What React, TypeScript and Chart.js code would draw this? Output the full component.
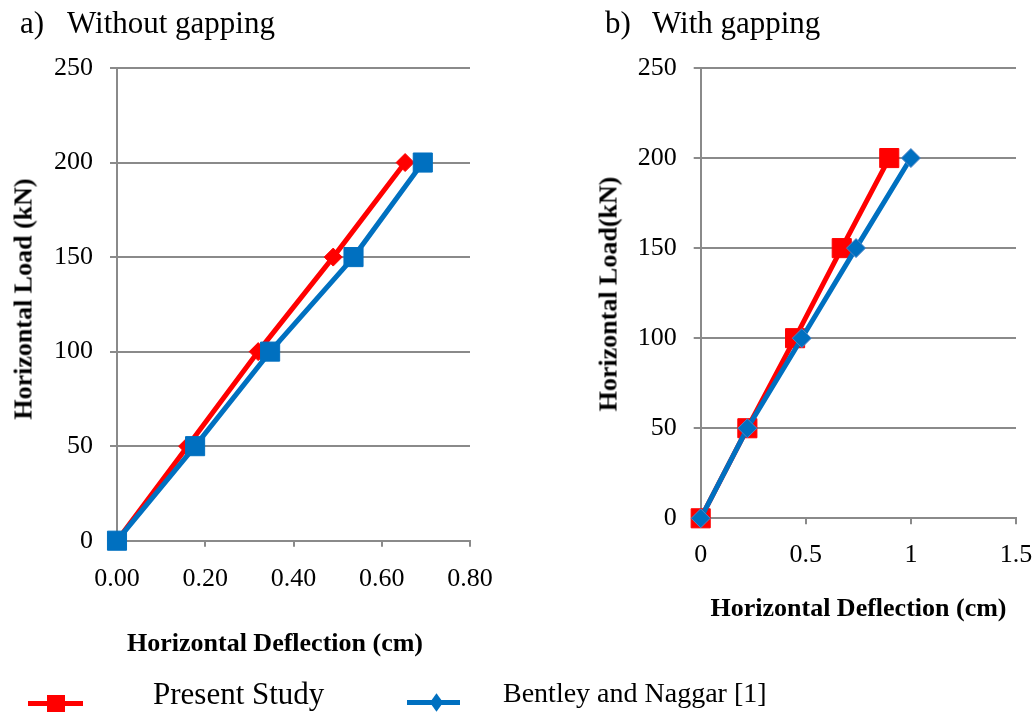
import React, { useEffect, useRef } from "react";
import { Chart, registerables } from "chart.js";

Chart.register(...registerables);

// Applied horizontal load levels (kN)
const loads = [0, 50, 100, 150, 200];
const loadMax = 250;
const loadStep = 50;

// Horizontal deflection (cm), panel a: without gapping
const presentNoGap = [0, 0.16, 0.32, 0.49, 0.653];
const bentleyNoGap = [0, 0.177, 0.347, 0.536, 0.693];

// Horizontal deflection (cm), panel b: with gapping
const presentGap = [0, 0.222, 0.449, 0.671, 0.897];
const bentleyGap = [0, 0.222, 0.481, 0.739, 1.0];

const seriesNames = ["Present Study", "Bentley and Naggar [1]"];
const panelTitles = [
  ["a)", "Without gapping"],
  ["b)", "With gapping"],
];
const xTitle = "Horizontal Deflection (cm)";
const yTitles = ["Horizontal Load (kN)", "Horizontal Load(kN)"];

const RED = "#FF0000";
const BLUE = "#0070C0";
const GRID = "#8a8a8a";
const SERIF = "'Liberation Serif', 'Times New Roman', serif";
const TICK_SIZE = 26;

type PanelProps = {
  left: number;
  width: number;
  height: number;
  areaTop: number;
  areaRight: number;
  yAxisWidth: number;
  xAxisHeight: number;
  xTickPad: number;
  xMax: number;
  xStep: number;
  xFormat: (v: number) => string;
  present: number[];
  bentley: number[];
  presentStyle: { style: string; radius: number };
  bentleyStyle: { style: string; radius: number; border: string };
};

function Panel(p: PanelProps) {
  const ref = useRef<HTMLCanvasElement | null>(null);

  useEffect(() => {
    if (!ref.current) return;
    const pairs = (xs: number[]) => xs.map((x, i) => ({ x, y: loads[i] }));
    const chart = new Chart(ref.current, {
      type: "line",
      data: {
        datasets: [
          {
            label: seriesNames[1],
            data: pairs(p.bentley),
            borderColor: BLUE,
            backgroundColor: BLUE,
            borderWidth: 5,
            pointStyle: p.bentleyStyle.style as any,
            pointRadius: p.bentleyStyle.radius,
            pointBackgroundColor: BLUE,
            pointBorderColor: p.bentleyStyle.border,
            pointBorderWidth: 1,
            tension: 0,
            clip: false as any,
          },
          {
            label: seriesNames[0],
            data: pairs(p.present),
            borderColor: RED,
            backgroundColor: RED,
            borderWidth: 5,
            pointStyle: p.presentStyle.style as any,
            pointRadius: p.presentStyle.radius,
            pointBackgroundColor: RED,
            pointBorderColor: RED,
            pointBorderWidth: 1,
            tension: 0,
            clip: false as any,
          },
        ],
      },
      options: {
        animation: false,
        responsive: false,
        events: [],
        layout: {
          padding: { top: p.areaTop, right: p.width - p.areaRight, left: 0, bottom: 0 },
        },
        plugins: {
          legend: { display: false },
          tooltip: { enabled: false },
        },
        scales: {
          x: {
            type: "linear",
            min: 0,
            max: p.xMax,
            ticks: {
              stepSize: p.xStep,
              color: "#000",
              font: { family: SERIF, size: TICK_SIZE },
              padding: p.xTickPad,
              maxRotation: 0,
              callback: (v: any) => p.xFormat(Number(v)),
            },
            grid: {
              drawOnChartArea: false,
              drawTicks: true,
              tickLength: 6,
              color: GRID,
              lineWidth: 2,
            },
            border: { display: true, color: GRID, width: 2 },
            afterFit: (s: any) => {
              s.height = p.xAxisHeight;
            },
          },
          y: {
            type: "linear",
            min: 0,
            max: loadMax,
            ticks: {
              stepSize: loadStep,
              color: "#000",
              font: { family: SERIF, size: TICK_SIZE },
              padding: 17,
            },
            grid: {
              color: GRID,
              lineWidth: 2,
              drawTicks: true,
              tickLength: 7,
            },
            border: { display: true, color: GRID, width: 2 },
            afterFit: (s: any) => {
              s.width = p.yAxisWidth;
            },
          },
        },
      },
    });
    return () => chart.destroy();
  }, []);

  return (
    <canvas
      ref={ref}
      width={p.width}
      height={p.height}
      style={{ position: "absolute", left: p.left, top: 0, width: p.width, height: p.height }}
    />
  );
}

function PanelTitle({ left, textLeft, tag, text }: { left: number; textLeft: number; tag: string; text: string }) {
  const base: React.CSSProperties = {
    position: "absolute",
    top: 7,
    fontFamily: SERIF,
    fontSize: 31,
    lineHeight: "31px",
    color: "#000",
    whiteSpace: "nowrap",
  };
  return (
    <>
      <div style={{ ...base, left }}>{tag}</div>
      <div style={{ ...base, left: textLeft }}>{text}</div>
    </>
  );
}

// Axis title centred on (cx, cy); vertical titles read bottom-to-top
function AxisTitle({ cx, cy, text, vertical }: { cx: number; cy: number; text: string; vertical?: boolean }) {
  return (
    <div
      style={{
        position: "absolute",
        left: cx,
        top: cy,
        transform: `translate(-50%, -50%)${vertical ? " rotate(-90deg)" : ""}`,
        fontFamily: SERIF,
        fontWeight: "bold",
        fontSize: 26,
        lineHeight: "29px",
        color: "#000",
        whiteSpace: "nowrap",
      }}
    >
      {text}
    </div>
  );
}

export default function App() {
  return (
    <div
      style={{
        position: "absolute",
        left: 0,
        top: 0,
        width: 1035,
        height: 713,
        overflow: "hidden",
        background: "#fff",
      }}
    >
      <Panel
        left={0}
        width={516}
        height={680}
        areaTop={68}
        areaRight={470}
        yAxisWidth={117}
        xAxisHeight={139.3}
        xTickPad={17}
        xMax={0.8}
        xStep={0.2}
        xFormat={(v) => v.toFixed(2)}
        present={presentNoGap}
        bentley={bentleyNoGap}
        presentStyle={{ style: "rectRot", radius: 9 }}
        bentleyStyle={{ style: "rect", radius: 13.5, border: BLUE }}
      />
      <Panel
        left={580}
        width={476}
        height={680}
        areaTop={68}
        areaRight={436}
        yAxisWidth={120.7}
        xAxisHeight={161.7}
        xTickPad={15}
        xMax={1.5}
        xStep={0.5}
        xFormat={(v) => String(Math.round(v * 10) / 10)}
        present={presentGap}
        bentley={bentleyGap}
        presentStyle={{ style: "rect", radius: 13.5 }}
        bentleyStyle={{ style: "rectRot", radius: 9.5, border: "#4f86c6" }}
      />

      <PanelTitle left={20} textLeft={67} tag={panelTitles[0][0]} text={panelTitles[0][1]} />
      <PanelTitle left={605} textLeft={652} tag={panelTitles[1][0]} text={panelTitles[1][1]} />

      <AxisTitle cx={275} cy={642} text={xTitle} />
      <AxisTitle cx={858.5} cy={607} text={xTitle} />
      <AxisTitle cx={23} cy={299} text={yTitles[0]} vertical />
      <AxisTitle cx={608} cy={294} text={yTitles[1]} vertical />

      {/* legend */}
      <div style={{ position: "absolute", left: 28, top: 700.5, width: 55, height: 5, background: RED }} />
      <div style={{ position: "absolute", left: 47, top: 695, width: 18, height: 17, background: RED }} />
      <div
        style={{
          position: "absolute",
          left: 153,
          top: 678,
          fontFamily: SERIF,
          fontSize: 31,
          lineHeight: "31px",
          color: "#000",
          whiteSpace: "nowrap",
        }}
      >
        {seriesNames[0]}
      </div>
      <div style={{ position: "absolute", left: 407, top: 699.5, width: 53, height: 5, background: BLUE }} />
      <div
        style={{
          position: "absolute",
          left: 429.5,
          top: 695.5,
          width: 13,
          height: 13,
          background: BLUE,
          transform: "scaleX(0.72) rotate(45deg)",
        }}
      />
      <div
        style={{
          position: "absolute",
          left: 503,
          top: 678.5,
          fontFamily: SERIF,
          fontSize: 28,
          lineHeight: "28px",
          color: "#000",
          whiteSpace: "nowrap",
        }}
      >
        {seriesNames[1]}
      </div>
    </div>
  );
}
